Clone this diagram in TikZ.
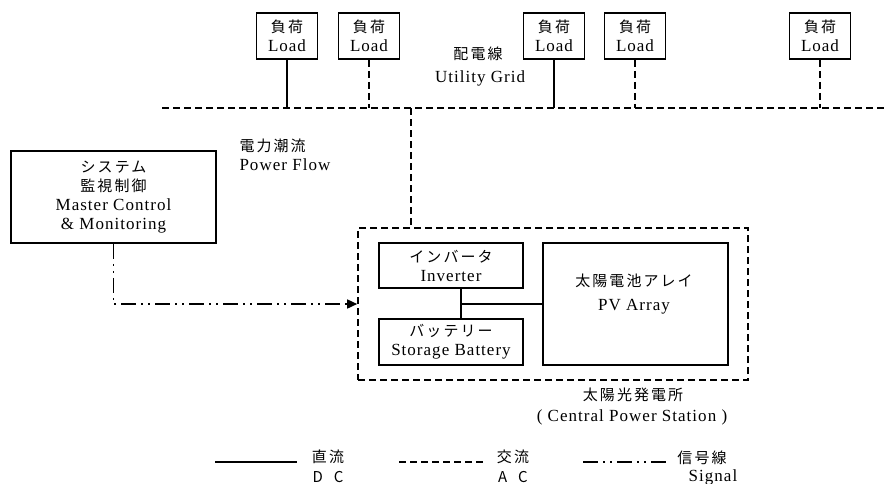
\documentclass[tikz,border=0pt]{standalone}
\usepackage{fontspec}
\setmainfont{Liberation Serif}[LetterSpace=6]
\newfontfamily\jp[Scale=0.88,LetterSpace=14]{Noto Sans CJK JP}
\usetikzlibrary{arrows.meta}

\begin{document}
\begin{tikzpicture}[x=1pt, y=-1pt,
        font=\fontsize{17}{19}\selectfont,
        box/.style={draw, line width=1.6pt, inner sep=0pt, align=center},
        dc/.style={line width=1.6pt},
        ac/.style={line width=1.6pt, dash pattern=on 7pt off 4pt},
        sig/.style={line width=1.6pt, dash pattern=on 15pt off 5pt on 2pt off 5pt on 2pt off 5pt}]
        \useasboundingbox (0,0) rectangle (886,483);
        % utility grid and loads
        \coordinate (gridL) at (162,108);
        \coordinate (gridR) at (886,108);
        \draw[ac] (gridL) -- (gridR);
        \node (gridjp) at (478,54) {\jp 配電線};
        \node (gridname) at (480,78) {Utility Grid};
        \foreach \x/\kind [count=\i] in {287/dc,369/ac,554/dc,635/ac,820/ac} {
            \node[box, minimum width=61pt, minimum height=46pt] (load\i) at (\x,36) {{\jp 負荷}\\Load};
            \draw[\kind] (load\i.south) -- (load\i.south |- gridL);
        }
        % master control
        \node[box, minimum width=205pt, minimum height=92pt] (master) at (113.5,197)
            {{\jp システム}\\{\jp 監視制御}\\Master Control\\\& Monitoring};
        \node[anchor=west, align=left] (flow) at (236,155) {{\jp 電力潮流}\\Power Flow};
        % power station
        \node[draw, ac, minimum width=390pt, minimum height=152pt] (station) at (553,304) {};
        \node[box, minimum width=144pt, minimum height=45pt] (inv) at (451,265.5) {{\jp インバータ}\\Inverter};
        \node[box, minimum width=144pt, minimum height=46pt] (bat) at (451,342) {{\jp バッテリー}\\Storage Battery};
        \node[box, minimum width=185pt, minimum height=122pt] (pv) at (635.5,304) {};
        \node[align=center] (pvname) at (634,294) {{\jp 太陽電池アレイ}\\[5pt]PV Array};
        \coordinate (jct) at (461,304);
        \draw[dc] (inv.south -| jct) -- (bat.north -| jct);
        \draw[dc] (jct) -- (jct -| pv.west);
        \coordinate (tap) at (411,108);
        \draw[ac] (tap) -- (tap |- station.north);
        \draw[sig, -{Triangle[length=10pt,width=9pt]}] (master.south) |- (station.west);
        \node (stationjp) at (633,395) {\jp 太陽光発電所};
        \node (stationname) at (632,417) {( Central Power Station )};
        % legend
        \coordinate (dcA) at (215,462);
        \coordinate (dcB) at (297,462);
        \draw[dc] (dcA) -- (dcB);
        \node (dcjp) at (328,457) {\jp 直流};
        \node (dcname) at (328,477) {\jp D\ \ C};
        \coordinate (acA) at (399,462);
        \coordinate (acB) at (483,462);
        \draw[ac] (acA) -- (acB);
        \node (acjp) at (513,457) {\jp 交流};
        \node (acname) at (513,477) {\jp A\ \ C};
        \coordinate (sigA) at (583,462);
        \coordinate (sigB) at (669,462);
        \draw[sig] (sigA) -- (sigB);
        \node (sigjp) at (702,458) {\jp 信号線};
        \node (signame) at (713,477) {Signal};
\end{tikzpicture}
\end{document}
